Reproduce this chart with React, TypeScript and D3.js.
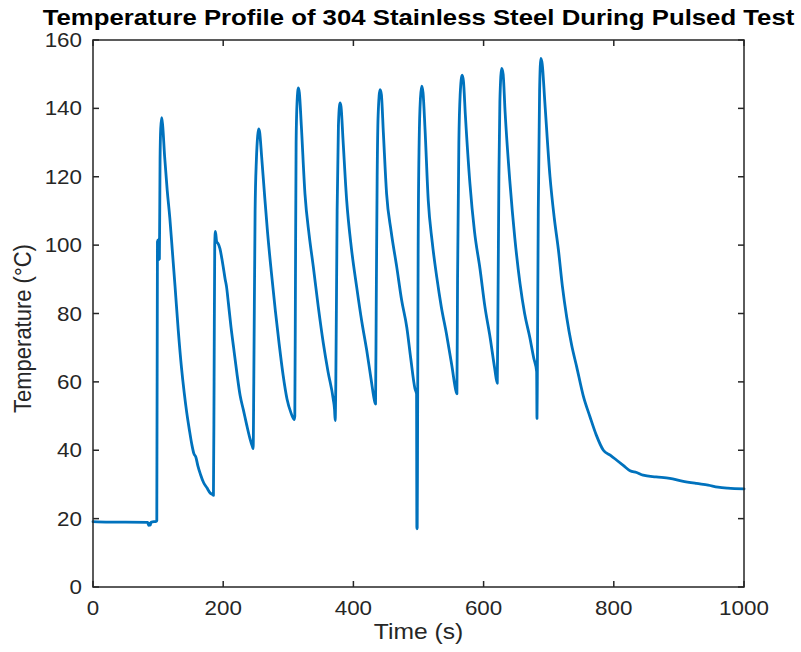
import React from 'react';
import * as d3 from 'd3';

const timeS: number[] = [
  0, 20, 50, 84, 85, 86, 87, 88, 89, 90, 97, 98, 99, 100, 101, 102, 103, 104, 105.5, 107, 110, 114, 118, 122, 126, 131, 136, 140, 144, 148, 152, 155, 158, 161, 165, 170, 175, 180, 184, 185,
  186, 187, 188, 190, 192, 195, 198, 200, 203, 205, 208, 212, 216, 221, 226, 231, 236, 241, 245, 246,
  247, 249, 251, 253, 254.5, 256, 259, 263, 268, 274, 280, 286, 292, 298, 304, 309,
  310, 311, 312, 313.5, 315.5, 317, 320, 325.6, 332, 338.4, 346, 353.8, 361, 369, 371, 372,
  373, 375, 377, 379.4, 381, 384, 389.7, 397, 405, 413, 420.4, 427, 433, 434,
  435, 436.5, 438, 441, 443, 446, 451, 458, 466.5, 474, 482, 488, 494.6, 497, 497.5, 498,
  498.5, 499.5, 501, 503, 505, 507, 510, 515, 521, 528, 535, 543, 551, 558, 559,
  560, 562, 564, 567, 569, 572, 579, 586, 594.5, 602, 610, 617, 621,
  622, 623.5, 625, 627.8, 630, 633, 640.6, 648, 655.9, 663, 671, 677, 681.5, 682,
  682.5, 684, 686, 688, 690, 694, 702, 708.5, 715, 721, 727.6, 735, 743, 753, 763.4, 773, 784, 795, 805, 815, 825, 835, 845, 865, 886, 905, 927, 945, 960, 975, 1000,
];

const tempC: number[] = [
  19.1, 19.0, 19.0, 18.9, 18.3, 18.0, 18.6, 18.1, 18.9, 19.0, 19.2, 19.4, 101, 101.5, 95.8, 96, 125, 134, 137.3, 135, 126, 116, 108, 98, 88, 75, 64, 57, 51, 46, 41.5, 39, 38, 35.5, 33, 30.5, 29, 27.5, 27, 26.8,
  60, 100, 104, 101, 100.5, 99, 96, 93.7, 90, 88, 83, 76, 70, 62.6, 56, 51.8, 47.5, 43.5, 41, 40.5,
  60, 110, 125, 132, 134, 133, 126, 116, 104, 92, 81, 71, 62, 55, 51, 49,
  50, 90, 130, 142, 146, 144.5, 135, 115, 103, 93.7, 82, 71.3, 63, 55, 52, 48.7,
  60, 110, 135, 141.6, 140.5, 131, 113, 99, 87.8, 77.5, 69.3, 61, 54, 53.5,
  80, 120, 138, 145.5, 144, 133, 115, 104, 93.7, 84, 76, 67, 58, 56.5, 17, 17.3,
  40, 100, 130, 143, 146.5, 144.5, 134, 113, 101, 90.7, 82, 74, 65, 57, 56.5,
  90, 130, 144, 149.7, 148, 138, 118, 104, 93, 82, 73, 64, 59.6,
  80, 120, 142, 151.7, 150, 139, 118, 102, 88.8, 80, 73, 67, 63, 49.3,
  60, 110, 145, 154.6, 153, 142, 120, 108, 98.5, 88, 79, 71, 64.4, 56, 49.8, 44.5, 40, 38.5, 37, 35.5, 34, 33.5, 32.7, 32.2, 31.8, 31, 30.3, 29.8, 29.2, 28.9, 28.7,
];

const xTicks: number[] = [0, 200, 400, 600, 800, 1000];
const yTicks: number[] = [0, 20, 40, 60, 80, 100, 120, 140, 160];

const titleText = 'Temperature Profile of 304 Stainless Steel During Pulsed Test';
const xLabel = 'Time (s)';
const yLabel = 'Temperature (°C)';

const SX = 1.12; // horizontal glyph stretch of the reference

export default function App() {
  const W = 801;
  const H = 652;
  const left = 93, right = 744, top = 40, bottom = 587;
  const x = d3.scaleLinear().domain([0, 1000]).range([left, right]);
  const y = d3.scaleLinear().domain([0, 160]).range([bottom, top]);
  const pts: [number, number][] = timeS.map((t, i) => [t, tempC[i]]);
  const line = d3.line<[number, number]>().x(d => x(d[0])).y(d => y(d[1])).curve(d3.curveMonotoneX);
  const axisColor = '#262626';
  const font = '"Liberation Sans", Arial, Helvetica, sans-serif';
  const tl = 6;

  return (
    <svg width={W} height={H} style={{ position: 'absolute', left: 0, top: 0, background: '#fff' }} fontFamily={font}>
      <rect x={0} y={0} width={W} height={H} fill="#fff" />
      <path d={line(pts) || ''} fill="none" stroke="#0072BD" strokeWidth={2.8} strokeLinejoin="round" strokeLinecap="round" />
      <rect x={left} y={top} width={right - left} height={bottom - top} fill="none" stroke={axisColor} strokeWidth={1.5} />
      {xTicks.map(t => (
        <g key={'xt' + t}>
          <line x1={x(t)} x2={x(t)} y1={bottom} y2={bottom - tl} stroke={axisColor} strokeWidth={1.5} />
          <line x1={x(t)} x2={x(t)} y1={top} y2={top + tl} stroke={axisColor} strokeWidth={1.5} />
          <text transform={`translate(${x(t)},615) scale(${SX},1)`} textAnchor="middle" fontSize={20} fill={axisColor}>{t}</text>
        </g>
      ))}
      {yTicks.map(v => (
        <g key={'yt' + v}>
          <line x1={left} x2={left + tl} y1={y(v)} y2={y(v)} stroke={axisColor} strokeWidth={1.5} />
          <line x1={right} x2={right - tl} y1={y(v)} y2={y(v)} stroke={axisColor} strokeWidth={1.5} />
          <text transform={`translate(82,${y(v) + 7}) scale(${SX},1)`} textAnchor="end" fontSize={20} fill={axisColor}>{v}</text>
        </g>
      ))}
      <text transform={`translate(${(left + right) / 2},639) scale(${SX},1)`} textAnchor="middle" fontSize={22} fill={axisColor}>{xLabel}</text>
      <text transform={`translate(31,${(top + bottom) / 2 + 15}) rotate(-90) scale(1,${SX})`} textAnchor="middle" fontSize={22} fill={axisColor}>{yLabel}</text>
      <text transform={`translate(${(left + right) / 2},25) scale(${SX},1)`} textAnchor="middle" fontSize={23} fontWeight="bold" fill="#000">{titleText}</text>
    </svg>
  );
}
